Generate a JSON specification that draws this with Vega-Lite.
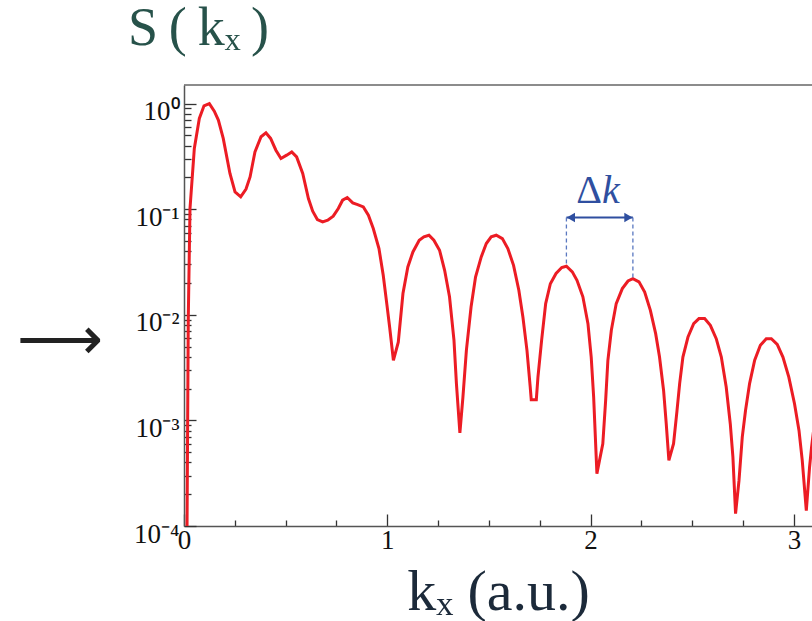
{
  "$schema": "https://vega.github.io/schema/vega-lite/v6.json",
  "autosize": "none",
  "width": 628,
  "height": 441,
  "padding": {"left": 184, "top": 85, "right": 0, "bottom": 95},
  "background": "white",
  "config": {
    "view": {"stroke": null},
    "axis": {"grid": false, "labelFont": "Liberation Serif", "labelFontSize": 27, "labelColor": "#111", "domainColor": "#555", "domainWidth": 1.5, "tickColor": "#333", "tickWidth": 1.3, "labelOverlap": false, "labelBound": false}
  },
  "title": {"text": "S\u2009(\u2009kₓ\u2009)", "anchor": "start", "frame": "group", "dx": -56, "dy": 50, "offset": 35, "baseline": "alphabetic", "font": "Liberation Serif", "fontSize": 54, "fontWeight": "normal", "color": "#27524a"},
  "layer": [
    {
      "data": {"values": [
        {"k": 0.014, "S": 0.00005}, {"k": 0.021, "S": 0.0092}, {"k": 0.0295, "S": 0.1016}, {"k": 0.0508, "S": 0.376},
        {"k": 0.0754, "S": 0.724}, {"k": 0.0984, "S": 0.953}, {"k": 0.1246, "S": 1.0}, {"k": 0.149, "S": 0.849},
        {"k": 0.169, "S": 0.698}, {"k": 0.193, "S": 0.468}, {"k": 0.226, "S": 0.218}, {"k": 0.251, "S": 0.146},
        {"k": 0.279, "S": 0.131}, {"k": 0.305, "S": 0.155}, {"k": 0.325, "S": 0.202}, {"k": 0.349, "S": 0.349},
        {"k": 0.379, "S": 0.485}, {"k": 0.403, "S": 0.529}, {"k": 0.426, "S": 0.468}, {"k": 0.452, "S": 0.362},
        {"k": 0.477, "S": 0.302}, {"k": 0.505, "S": 0.325}, {"k": 0.53, "S": 0.349}, {"k": 0.554, "S": 0.313},
        {"k": 0.584, "S": 0.218}, {"k": 0.612, "S": 0.126}, {"k": 0.633, "S": 0.0957}, {"k": 0.656, "S": 0.0798},
        {"k": 0.682, "S": 0.0758}, {"k": 0.707, "S": 0.0787}, {"k": 0.734, "S": 0.0859}, {"k": 0.759, "S": 0.1016},
        {"k": 0.78, "S": 0.1217}, {"k": 0.803, "S": 0.129}, {"k": 0.83, "S": 0.1148}, {"k": 0.854, "S": 0.1107},
        {"k": 0.882, "S": 0.105}, {"k": 0.907, "S": 0.0877}, {"k": 0.931, "S": 0.0656}, {"k": 0.959, "S": 0.0424},
        {"k": 0.98, "S": 0.0237}, {"k": 0.998, "S": 0.0125}, {"k": 1.012, "S": 0.0075}, {"k": 1.03, "S": 0.0037},
        {"k": 1.054, "S": 0.0055}, {"k": 1.077, "S": 0.0159}, {"k": 1.101, "S": 0.0284}, {"k": 1.126, "S": 0.0394},
        {"k": 1.157, "S": 0.0508}, {"k": 1.18, "S": 0.0547}, {"k": 1.205, "S": 0.0567}, {"k": 1.229, "S": 0.0508},
        {"k": 1.257, "S": 0.0409}, {"k": 1.282, "S": 0.0264}, {"k": 1.306, "S": 0.0148}, {"k": 1.328, "S": 0.00573},
        {"k": 1.34, "S": 0.00223}, {"k": 1.357, "S": 0.00076}, {"k": 1.372, "S": 0.00166}, {"k": 1.389, "S": 0.00461},
        {"k": 1.412, "S": 0.01186}, {"k": 1.434, "S": 0.0228}, {"k": 1.462, "S": 0.0353}, {"k": 1.487, "S": 0.0473},
        {"k": 1.511, "S": 0.0547}, {"k": 1.536, "S": 0.0567}, {"k": 1.566, "S": 0.0527}, {"k": 1.593, "S": 0.0424},
        {"k": 1.621, "S": 0.0294}, {"k": 1.647, "S": 0.0171}, {"k": 1.667, "S": 0.00953}, {"k": 1.687, "S": 0.00461},
        {"k": 1.703, "S": 0.00207}, {"k": 1.708, "S": 0.00157}, {"k": 1.733, "S": 0.00157}, {"k": 1.741, "S": 0.00257},
        {"k": 1.759, "S": 0.00573}, {"k": 1.779, "S": 0.01277}, {"k": 1.802, "S": 0.0197}, {"k": 1.83, "S": 0.0246},
        {"k": 1.858, "S": 0.028}, {"k": 1.881, "S": 0.0288}, {"k": 1.91, "S": 0.0255}, {"k": 1.933, "S": 0.0212},
        {"k": 1.962, "S": 0.0148}, {"k": 1.987, "S": 0.00825}, {"k": 2.003, "S": 0.00398}, {"k": 2.015, "S": 0.00166},
        {"k": 2.031, "S": 0.000313}, {"k": 2.044, "S": 0.00042}, {"k": 2.06, "S": 0.0006}, {"k": 2.074, "S": 0.00155},
        {"k": 2.085, "S": 0.00371}, {"k": 2.102, "S": 0.00713}, {"k": 2.126, "S": 0.01277}, {"k": 2.156, "S": 0.0177},
        {"k": 2.184, "S": 0.0209}, {"k": 2.208, "S": 0.022}, {"k": 2.238, "S": 0.0205}, {"k": 2.266, "S": 0.0164},
        {"k": 2.294, "S": 0.011}, {"k": 2.32, "S": 0.00663}, {"k": 2.339, "S": 0.00398}, {"k": 2.359, "S": 0.00192},
        {"k": 2.372, "S": 0.00093}, {"k": 2.385, "S": 0.000418}, {"k": 2.408, "S": 0.000601}, {"k": 2.425, "S": 0.00124},
        {"k": 2.438, "S": 0.00223}, {"k": 2.454, "S": 0.00398}, {"k": 2.479, "S": 0.00616}, {"k": 2.507, "S": 0.00825},
        {"k": 2.533, "S": 0.0092}, {"k": 2.561, "S": 0.0092}, {"k": 2.589, "S": 0.00794}, {"k": 2.618, "S": 0.00594},
        {"k": 2.643, "S": 0.00398}, {"k": 2.667, "S": 0.00207}, {"k": 2.687, "S": 0.00093}, {"k": 2.7, "S": 0.000449},
        {"k": 2.713, "S": 0.000131}, {"k": 2.73, "S": 0.00027}, {"k": 2.746, "S": 0.000695}, {"k": 2.762, "S": 0.00124},
        {"k": 2.782, "S": 0.00223}, {"k": 2.807, "S": 0.00371}, {"k": 2.835, "S": 0.00514}, {"k": 2.864, "S": 0.00594},
        {"k": 2.889, "S": 0.00594}, {"k": 2.918, "S": 0.00525}, {"k": 2.946, "S": 0.00398}, {"k": 2.975, "S": 0.00257},
        {"k": 3.003, "S": 0.00144}, {"k": 3.025, "S": 0.000804}, {"k": 3.041, "S": 0.000418}, {"k": 3.061, "S": 0.00014},
        {"k": 3.077, "S": 0.00036}, {"k": 3.087, "S": 0.00056}, {"k": 3.1, "S": 0.0009}
      ]},
      "mark": {"type": "line", "color": "#ec1c24", "strokeWidth": 3, "clip": true},
      "encoding": {
        "x": {"field": "k", "type": "quantitative",
          "scale": {"domain": [0, 3.089], "nice": false, "zero": false},
          "axis": {
            "title": "kₓ (a.u.)", "titleFont": "Liberation Serif", "titleFontSize": 58, "titleFontWeight": "normal", "titleColor": "#1c2a3a",
            "titleBaseline": "alphabetic", "titleY": 83, "titleAnchor": "middle",
            "values": [0, 0.25, 0.5, 0.75, 1, 1.25, 1.5, 1.75, 2, 2.25, 2.5, 2.75, 3],
            "labelExpr": "datum.value % 1 === 0 ? format(datum.value, 'd') : ''",
            "labelFlush": false, "labelBaseline": "top", "labelPadding": 13,
            "tickSize": {"condition": {"test": "datum.value % 1 === 0", "value": -12}, "value": -6}
          }
        },
        "y": {"field": "S", "type": "quantitative",
          "scale": {"type": "log", "domain": [0.0001, 1.5], "nice": false},
          "axis": {
            "title": null,
            "values": [0.0001, 0.0002, 0.0003, 0.0004, 0.0005, 0.0006, 0.0007, 0.0008, 0.0009, 0.001, 0.002, 0.003, 0.004, 0.005, 0.006, 0.007, 0.008, 0.009, 0.01, 0.02, 0.03, 0.04, 0.05, 0.06, 0.07, 0.08, 0.09, 0.1, 0.2, 0.3, 0.4, 0.5, 0.6, 0.7, 0.8, 0.9, 1],
            "labelExpr": "datum.value === 1 ? '10⁰' : datum.value === 0.1 ? '10⁻¹' : datum.value === 0.01 ? '10⁻²' : datum.value === 0.001 ? '10⁻³' : datum.value === 0.0001 ? '10⁻⁴' : ''",
            "labelBaseline": "alphabetic", "labelOffset": 16, "labelPadding": 17,
            "tickSize": {"condition": {"test": "indexof([1, 0.1, 0.01, 0.001, 0.0001], datum.value) >= 0", "value": -12}, "value": -7}
          }
        }
      }
    },
    {
      "data": {"values": [{}]},
      "mark": {"type": "rule", "color": "#666", "strokeWidth": 1.5},
      "encoding": {"y": {"datum": 1.5, "type": "quantitative"}}
    },
    {
      "data": {"values": [{"k": 1.881, "k2": 2.208, "S": 0.0834}]},
      "mark": {"type": "rule", "color": "#2f4fa0", "strokeWidth": 2},
      "encoding": {"x": {"field": "k", "type": "quantitative"}, "x2": {"field": "k2"}, "y": {"field": "S", "type": "quantitative"}}
    },
    {
      "data": {"values": [{"k": 1.881, "S": 0.0834, "S2": 0.0288}, {"k": 2.208, "S": 0.0834, "S2": 0.022}]},
      "mark": {"type": "rule", "color": "#5a78c0", "strokeWidth": 1.3, "strokeDash": [4, 3]},
      "encoding": {"x": {"field": "k", "type": "quantitative"}, "y": {"field": "S", "type": "quantitative"}, "y2": {"field": "S2"}}
    },
    {
      "data": {"values": [{"k": 1.903, "S": 0.0834}]},
      "mark": {"type": "point", "shape": "triangle-left", "filled": true, "color": "#2f4fa0", "size": 90, "opacity": 1},
      "encoding": {"x": {"field": "k", "type": "quantitative"}, "y": {"field": "S", "type": "quantitative"}}
    },
    {
      "data": {"values": [{"k": 2.186, "S": 0.0834}]},
      "mark": {"type": "point", "shape": "triangle-right", "filled": true, "color": "#2f4fa0", "size": 90, "opacity": 1},
      "encoding": {"x": {"field": "k", "type": "quantitative"}, "y": {"field": "S", "type": "quantitative"}}
    },
    {
      "data": {"values": [{"k": 2.056, "S": 0.114, "t": "Δ"}]},
      "mark": {"type": "text", "align": "right", "baseline": "alphabetic", "font": "Liberation Serif", "fontSize": 40, "color": "#2f4fa0"},
      "encoding": {"x": {"field": "k", "type": "quantitative"}, "y": {"field": "S", "type": "quantitative"}, "text": {"field": "t"}}
    },
    {
      "data": {"values": [{"k": 2.056, "S": 0.114, "t": "k"}]},
      "mark": {"type": "text", "align": "left", "baseline": "alphabetic", "font": "Liberation Serif", "fontSize": 40, "fontStyle": "italic", "color": "#2f4fa0"},
      "encoding": {"x": {"field": "k", "type": "quantitative"}, "y": {"field": "S", "type": "quantitative"}, "text": {"field": "t"}}
    },
    {
      "data": {"values": [{"k": -0.61, "S": 0.0056, "t": "⟶"}]},
      "mark": {"type": "text", "align": "center", "baseline": "middle", "font": "DejaVu Sans", "fontSize": 60, "color": "#222"},
      "encoding": {"x": {"field": "k", "type": "quantitative"}, "y": {"field": "S", "type": "quantitative"}, "text": {"field": "t"}}
    }
  ]
}
